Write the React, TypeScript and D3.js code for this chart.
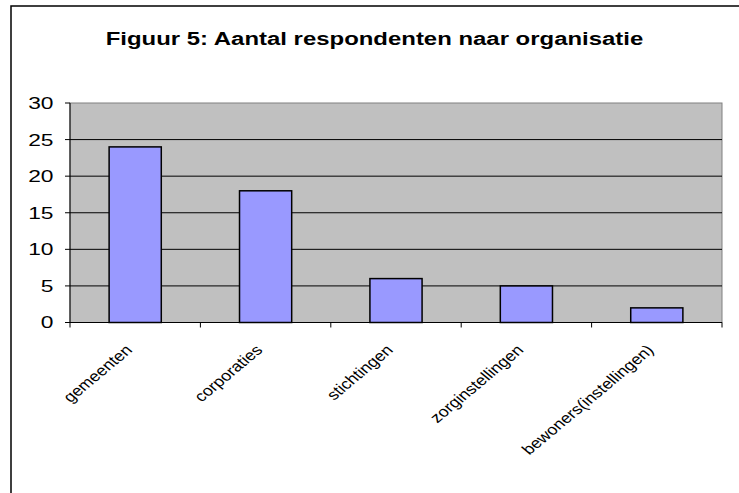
import React from "react";
import * as d3 from "d3";

const categories = ["gemeenten", "corporaties", "stichtingen", "zorginstellingen", "bewoners(instellingen)"];
const values = [24, 18, 6, 5, 2];
const yTicks = [0, 5, 10, 15, 20, 25, 30];
const title = "Figuur 5: Aantal respondenten naar organisatie";

export default function App() {
  const W = 739, H = 493;
  const left = 70, right = 722, top = 103, bottom = 322.5;
  const x = d3.scaleBand<string>().domain(categories).range([left, right]).paddingInner(0.6).paddingOuter(0.3);
  const y = d3.scaleLinear().domain([0, 30]).range([bottom, top]);
  const step = x.step();
  const font = "Arial, 'Liberation Sans', sans-serif";
  return (
    <svg width={W} height={H} style={{ position: "absolute", left: 0, top: 0, background: "#fff" }}>
      <rect x={11} y={6} width={900} height={700} fill="#fff" stroke="#000" strokeWidth={1.5} />
      <text transform="translate(374.5,45) scale(1.28,1)" textAnchor="middle" fontFamily={font} fontWeight="bold" fontSize={18.7}>{title}</text>
      <rect x={left} y={top} width={right - left} height={bottom - top} fill="#C0C0C0" stroke="#808080" strokeWidth={1} />
      {yTicks.filter(t => t > 0 && t < 30).map(t => (
        <line key={"g" + t} x1={left} x2={right} y1={y(t)} y2={y(t)} stroke="#000" strokeWidth={1} />
      ))}
      {categories.map((c, i) => (
        <rect key={c} x={x(c)} y={y(values[i])} width={x.bandwidth()} height={y(0) - y(values[i])} fill="#9999FF" stroke="#000" strokeWidth={1.5} />
      ))}
      <line x1={left} x2={left} y1={top} y2={bottom} stroke="#000" strokeWidth={1} />
      <line x1={left} x2={right} y1={bottom} y2={bottom} stroke="#000" strokeWidth={1} />
      {yTicks.map(t => (
        <g key={"t" + t}>
          <line x1={left - 5} x2={left} y1={y(t)} y2={y(t)} stroke="#000" strokeWidth={1} />
          <text transform={`translate(53.5,${y(t)}) scale(1.38,1)`} dy="0.36em" textAnchor="end" fontFamily={font} fontSize={16.5}>{t}</text>
        </g>
      ))}
      {d3.range(categories.length + 1).map(i => (
        <line key={"x" + i} x1={left + i * step} x2={left + i * step} y1={bottom} y2={bottom + 5} stroke="#000" strokeWidth={1} />
      ))}
      {categories.map(c => {
        const cx = (x(c) as number) + x.bandwidth() / 2;
        return (
          <text key={"l" + c} transform={`translate(${cx - 2},351) scale(1.2,1) rotate(-45)`} textAnchor="end" fontFamily={font} fontSize={14.8}>{c}</text>
        );
      })}
    </svg>
  );
}
